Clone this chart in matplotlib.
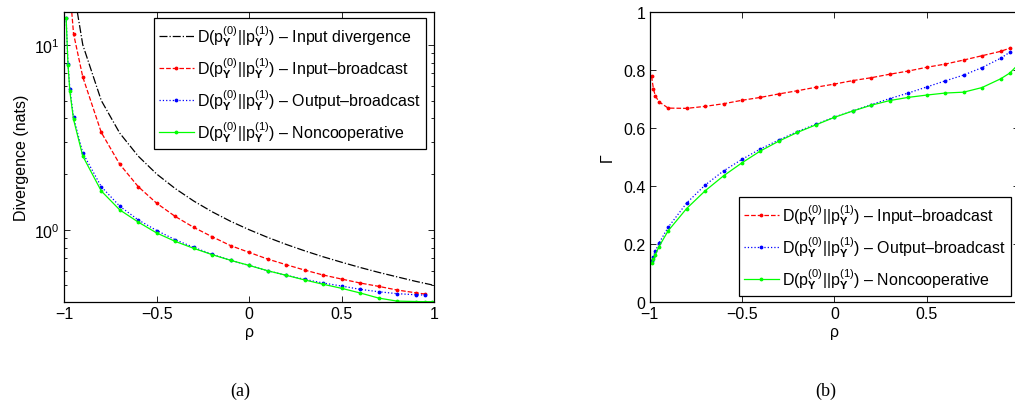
import numpy as np
import matplotlib
matplotlib.use("Agg")
import matplotlib.pyplot as plt
from matplotlib.ticker import NullFormatter, LogLocator

plt.rcParams['font.family'] = ['Liberation Sans', 'DejaVu Sans']
plt.rcParams['mathtext.fontset'] = 'custom'
plt.rcParams['mathtext.rm'] = 'Liberation Sans'
plt.rcParams['mathtext.it'] = 'Liberation Sans:italic'
plt.rcParams['mathtext.bf'] = 'Liberation Sans:bold'
plt.rcParams['axes.unicode_minus'] = True

# correlation grid
rho = [-0.99, -0.98, -0.97, -0.95, -0.9, -0.8, -0.7, -0.6, -0.5, -0.4, -0.3,
       -0.2, -0.1, 0.0, 0.1, 0.2, 0.3, 0.4, 0.5, 0.6, 0.7, 0.8, 0.9, 0.95, 0.99]

# (a) divergence in nats
div_input = [100, 50, 33.3, 20, 10, 5, 3.33, 2.5, 2.0, 1.67, 1.43, 1.25, 1.11,
             1.0, 0.909, 0.833, 0.769, 0.714, 0.667, 0.625, 0.588, 0.556,
             0.526, 0.513, 0.503]
div_inbc = [60, 30, 20, 11.5, 6.7, 3.36, 2.26, 1.71, 1.39, 1.18, 1.03, 0.916,
            0.82, 0.754, 0.694, 0.647, 0.605, 0.569, 0.541, 0.515, 0.494,
            0.472, 0.456, 0.449]
div_outbc = [14.0, 7.9, 5.8, 4.05, 2.6, 1.71, 1.34, 1.13, 0.99, 0.883, 0.803,
             0.736, 0.683, 0.641, 0.600, 0.567, 0.539, 0.515, 0.496, 0.476,
             0.462, 0.451, 0.445, 0.443]
div_noncoop = [13.9, 7.8, 5.6, 3.95, 2.5, 1.62, 1.28, 1.10, 0.96, 0.865, 0.793,
               0.733, 0.683, 0.641, 0.600, 0.567, 0.535, 0.507, 0.482, 0.455,
               0.427, 0.411, 0.409, 0.408, 0.408]

# (b) Gamma
gam_inbc = [0.779, 0.736, 0.712, 0.691, 0.669, 0.668, 0.675, 0.684, 0.696,
            0.706, 0.718, 0.729, 0.741, 0.752, 0.764, 0.774, 0.786, 0.797,
            0.810, 0.821, 0.835, 0.850, 0.865, 0.876]
gam_outbc = [0.142, 0.156, 0.174, 0.202, 0.257, 0.341, 0.403, 0.452, 0.492,
             0.528, 0.559, 0.588, 0.613, 0.638, 0.659, 0.681, 0.702, 0.721,
             0.742, 0.763, 0.783, 0.809, 0.841, 0.862]
gam_noncoop = [0.134, 0.147, 0.161, 0.190, 0.245, 0.322, 0.383, 0.435, 0.480,
               0.521, 0.555, 0.585, 0.611, 0.637, 0.659, 0.679, 0.695, 0.706,
               0.714, 0.721, 0.724, 0.740, 0.770, 0.790, 0.816]

D = r'D$(\mathrm{p}_{\mathbf{Y}}^{(0)}||\mathrm{p}_{\mathbf{Y}}^{(1)})$'
lbl_input = D + ' – Input divergence'
lbl_inbc = D + ' – Input–broadcast'
lbl_outbc = D + ' – Output–broadcast'
lbl_noncoop = D + ' – Noncooperative'

FS = 11.5
W, H = 1015, 402
fig = plt.figure(figsize=(W / 100, H / 100), dpi=100)

ax1 = fig.add_axes([64.3 / W, 1 - 302.7 / H, 369.7 / W, 289.4 / H])
ax2 = fig.add_axes([649.7 / W, 1 - 302.7 / H, 369.3 / W, 289.4 / H])

lw = 0.9
ms = 3.5

def xs(vals):
    return rho[:len(vals)]

ax1.semilogy(xs(div_input), div_input, color='k', linestyle='-.', lw=lw, label=lbl_input)
ax1.semilogy(xs(div_inbc), div_inbc, color='r', linestyle='--', marker='.', ms=ms, lw=lw, label=lbl_inbc)
ax1.semilogy(xs(div_outbc), div_outbc, color='b', linestyle=':', marker='.', ms=ms, lw=lw, label=lbl_outbc)
ax1.semilogy(xs(div_noncoop), div_noncoop, color='#00ff00', linestyle='-', marker='.', ms=ms, lw=lw, label=lbl_noncoop)
ax1.set_xlim(-1, 1)
ax1.set_ylim(0.408, 15)
ax1.set_xticks([-1, -0.5, 0, 0.5, 1])
ax1.set_xticklabels(['−1', '−0.5', '0', '0.5', '1'])
ax1.yaxis.set_major_locator(LogLocator(base=10, numticks=5))
ax1.yaxis.set_minor_locator(LogLocator(base=10, subs=np.arange(2, 10), numticks=10))
ax1.yaxis.set_minor_formatter(NullFormatter())
ax1.set_xlabel('ρ', fontsize=FS, labelpad=2)
ax1.set_ylabel('Divergence (nats)', fontsize=FS, labelpad=4)
ax1.legend(loc='upper right', bbox_to_anchor=(0.978, 0.980), borderaxespad=0,
           fontsize=FS, fancybox=False, edgecolor='k', framealpha=1,
           handlelength=2.2, handletextpad=0.2, labelspacing=0.45,
           borderpad=0.3).get_frame().set_linewidth(0.9)

ax2.plot(xs(gam_inbc), gam_inbc, color='r', linestyle='--', marker='.', ms=ms, lw=lw, label=lbl_inbc)
ax2.plot(xs(gam_outbc), gam_outbc, color='b', linestyle=':', marker='.', ms=ms, lw=lw, label=lbl_outbc)
ax2.plot(xs(gam_noncoop), gam_noncoop, color='#00ff00', linestyle='-', marker='.', ms=ms, lw=lw, label=lbl_noncoop)
ax2.set_xlim(-1, 1)
ax2.set_ylim(0, 1)
ax2.set_xticks([-1, -0.5, 0, 0.5])
ax2.set_xticklabels(['−1', '−0.5', '0', '0.5'])
ax2.set_yticks([0, 0.2, 0.4, 0.6, 0.8, 1])
ax2.set_yticklabels(['0', '0.2', '0.4', '0.6', '0.8', '1'])
ax2.set_xlabel('ρ', fontsize=FS, labelpad=2)
ax2.set_ylabel('Γ', fontsize=FS, labelpad=6)
ax2.legend(loc='lower right', bbox_to_anchor=(0.978, 0.021), borderaxespad=0,
           fontsize=FS, fancybox=False, edgecolor='k', framealpha=1,
           handlelength=2.2, handletextpad=0.2, labelspacing=0.45,
           borderpad=0.3).get_frame().set_linewidth(0.9)

for ax in (ax1, ax2):
    ax.tick_params(which='both', direction='in', top=True, right=True,
                   labelsize=FS, width=0.6)
    ax.tick_params(which='major', length=4, pad=3)
    ax.tick_params(which='minor', length=2.5)
    for s in ax.spines.values():
        s.set_linewidth(0.9)

fig.text(240 / W, 1 - 391 / H, '(a)', ha='center', va='center',
         family='Liberation Serif', fontsize=13)
fig.text(826 / W, 1 - 391 / H, '(b)', ha='center', va='center',
         family='Liberation Serif', fontsize=13)

fig.savefig('out.png', dpi=100)
